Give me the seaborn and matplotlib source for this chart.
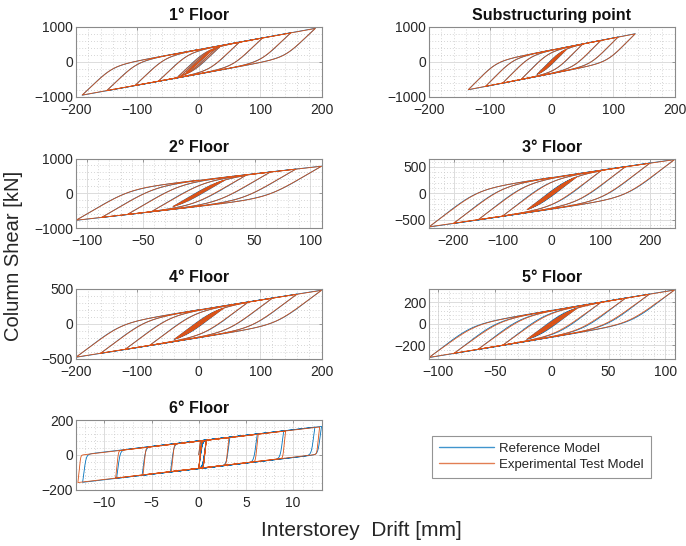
import numpy as np
import pandas as pd
import matplotlib
matplotlib.use("Agg")
import matplotlib.pyplot as plt
import seaborn as sns
from matplotlib.ticker import AutoMinorLocator, FixedLocator
from matplotlib.lines import Line2D

# ---------------- data ----------------
titles = ["1° Floor", "Substructuring point", "2° Floor", "3° Floor",
          "4° Floor", "5° Floor", "6° Floor"]
series_names = ["Reference Model", "Experimental Test Model"]

# drift reversal points [mm] of the cyclic loading history
drift_1f = [10, -10, 20, -20, 28, -28, 34, -34, 66, -66, 104, -104, 150, -150, 190, -190, 0]
drift_sp = [8, -8, 15, -15, 20, -20, 24, -24, 50, -50, 80, -80, 108, -108, 136, -136, 0]
drift_2f = [8, -8, 15, -15, 19, -19, 23, -23, 42, -42, 64, -64, 87, -87, 110, -110, 0]
drift_3f = [20, -20, 35, -35, 45, -45, 50, -50, 100, -100, 150, -150, 200, -200, 250, -250, 0]
drift_4f = [15, -15, 30, -30, 36, -36, 40, -40, 80, -80, 120, -120, 160, -160, 200, -200, 0]
drift_5f = [8, -8, 15, -15, 19, -19, 22, -22, 43, -43, 65, -65, 86, -86, 108, -108, 0]
drift_6f_exp = [0.8, 0.0, 0.8, 0.0, 0.8, 0.0, 3.2, -2.9, 6.3, -5.9, 9.2, -8.8, 12.8, -12.8, 0]
drift_6f_ref = [0.8, 0.0, 0.8, 0.0, 0.8, 0.0, 3.3, -3.0, 6.2, -6.0, 9.0, -8.7, 12.3, -12.3, 13.0, 0]

# elastic stiffness, post-yield stiffness [kN/mm], band intercept at zero drift [kN], knee sharpness
exp_params_1f = [16.5, 3.2, 350, 5.0]
ref_params_1f = [17.0, 3.2, 355, 4.3]
exp_params_sp = [17.5, 3.4, 340, 5.0]
ref_params_sp = [18.0, 3.4, 345, 4.3]
exp_params_2f = [18.5, 3.6, 380, 5.0]
ref_params_2f = [19.0, 3.6, 385, 4.3]
exp_params_3f = [7.0, 1.35, 300, 5.0]
ref_params_3f = [7.3, 1.35, 305, 4.3]
exp_params_4f = [6.5, 1.40, 200, 5.0]
ref_params_4f = [6.7, 1.40, 203, 4.5]
exp_params_5f = [7.5, 1.73, 123, 5.0]
ref_params_5f = [8.0, 1.73, 125, 4.5]
exp_params_6f = [520.0, 6.4, 78, 7.0]
ref_params_6f = [420.0, 6.4, 80, 4.0]

xlims = [(-200, 200), (-200, 200), (-110, 110), (-250, 250), (-200, 200), (-108, 108), (-13, 13)]
ylims = [(-1000, 1000), (-1000, 1000), (-1000, 1000), (-660, 660), (-500, 500), (-320, 320), (-200, 200)]
xticks = [[-200, -100, 0, 100, 200], [-200, -100, 0, 100, 200], [-100, -50, 0, 50, 100],
          [-200, -100, 0, 100, 200], [-200, -100, 0, 100, 200], [-100, -50, 0, 50, 100],
          [-10, -5, 0, 5, 10]]
yticks = [[-1000, 0, 1000], [-1000, 0, 1000], [-1000, 0, 1000], [-500, 0, 500],
          [-500, 0, 500], [-200, 0, 200], [-200, 0, 200]]


def hysteresis(peaks, params, n=400):
    """Menegotto-Pinto type response along the drift history."""
    k1, k2, c, R = params
    b = k2 / k1
    xs, fs = [0.0], [0.0]
    xr, fr, xp = 0.0, 0.0, 0.0
    for p in peaks:
        s = 1.0 if p > xp else -1.0
        x0 = (s * c - fr + k1 * xr) / (k1 - k2)
        f0 = k2 * x0 + s * c
        seg = np.linspace(xp, p, n)[1:]
        e = (seg - xr) / (x0 - xr)
        sig = b * e + (1 - b) * e / (1 + np.abs(e) ** R) ** (1 / R)
        f = fr + sig * (f0 - fr)
        xs.extend(seg)
        fs.extend(f)
        xr, fr, xp = p, f[-1], p
    return np.array(xs), np.array(fs)


panels = [
    (drift_1f, drift_1f, ref_params_1f, exp_params_1f),
    (drift_sp, drift_sp, ref_params_sp, exp_params_sp),
    (drift_2f, drift_2f, ref_params_2f, exp_params_2f),
    (drift_3f, drift_3f, ref_params_3f, exp_params_3f),
    (drift_4f, drift_4f, ref_params_4f, exp_params_4f),
    (drift_5f, drift_5f, ref_params_5f, exp_params_5f),
    (drift_6f_ref, drift_6f_exp, ref_params_6f, exp_params_6f),
]

# ---------------- drawing ----------------
sns.set_theme(style="white")
plt.rcParams["font.family"] = ["Liberation Sans", "DejaVu Sans"]

W, H = 686, 546
fig = plt.figure(figsize=(W / 100, H / 100), dpi=100)

cols = [76, 429]
rows = [27, 158.5, 289, 420]
aw, ah = 245.5, 69.5
positions = [(cols[0], rows[0]), (cols[1], rows[0]), (cols[0], rows[1]), (cols[1], rows[1]),
             (cols[0], rows[2]), (cols[1], rows[2]), (cols[0], rows[3])]

palette = {"Reference Model": "#0072BD", "Experimental Test Model": "#D95319"}
edge = "#8a8a8a"
txt = "#262626"

for i, (px, py) in enumerate(positions):
    ax = fig.add_axes([px / W, 1 - (py + ah) / H, aw / W, ah / H])
    ref_peaks, exp_peaks, rp, ep = panels[i]
    xr_, fr_ = hysteresis(ref_peaks, rp)
    xe_, fe_ = hysteresis(exp_peaks, ep)
    df = pd.concat([
        pd.DataFrame({"drift": xr_, "shear": fr_, "model": series_names[0]}),
        pd.DataFrame({"drift": xe_, "shear": fe_, "model": series_names[1]}),
    ], ignore_index=True)
    sns.lineplot(data=df, x="drift", y="shear", hue="model", hue_order=series_names,
                 palette=palette, sort=False, estimator=None, lw=0.6, legend=False, ax=ax)
    ax.set_xlim(*xlims[i])
    ax.set_ylim(*ylims[i])
    ax.xaxis.set_major_locator(FixedLocator(xticks[i]))
    ax.yaxis.set_major_locator(FixedLocator(yticks[i]))
    ax.xaxis.set_minor_locator(AutoMinorLocator(5))
    ax.yaxis.set_minor_locator(AutoMinorLocator(5))
    ax.grid(True, which="major", color="#dcdcdc", lw=0.7, ls="-")
    ax.grid(True, which="minor", color="#c8c8c8", lw=0.6, ls=(0, (1, 2.5)))
    ax.set_axisbelow(True)
    ax.set_xlabel("")
    ax.set_ylabel("")
    for sp in ax.spines.values():
        sp.set_color(edge)
        sp.set_linewidth(0.8)
    ax.tick_params(axis="both", which="major", direction="in", length=2.5, width=0.6,
                   color=edge, labelsize=10, labelcolor=txt, top=True, right=True)
    ax.tick_params(axis="x", which="major", pad=4.5)
    ax.tick_params(axis="y", which="major", pad=2)
    ax.tick_params(which="minor", length=0)
    ax.set_title(titles[i], fontsize=11.5, fontweight="bold", color="#111111", pad=5)

# legend
handles = [Line2D([], [], color=palette[n], lw=1.0, alpha=0.75) for n in series_names]
leg = fig.legend(handles, series_names, loc="upper left",
                 bbox_to_anchor=(432 / W, 1 - 436 / H), frameon=True, fancybox=False,
                 fontsize=9.5, handlelength=4.2, handletextpad=0.4, borderpad=0.5,
                 labelspacing=0.3, borderaxespad=0)
leg.get_frame().set_edgecolor("#7a7a7a")
leg.get_frame().set_linewidth(0.8)
for t in leg.get_texts():
    t.set_color(txt)

fig.text(14 / W, 1 - 256 / H, "Column Shear [kN]", rotation=90, ha="center", va="center",
         fontsize=14.5, color=txt)
fig.text(361 / W, 1 - 530 / H, "Interstorey  Drift [mm]", ha="center", va="center",
         fontsize=15, color=txt)

fig.savefig("out.png", dpi=100)
